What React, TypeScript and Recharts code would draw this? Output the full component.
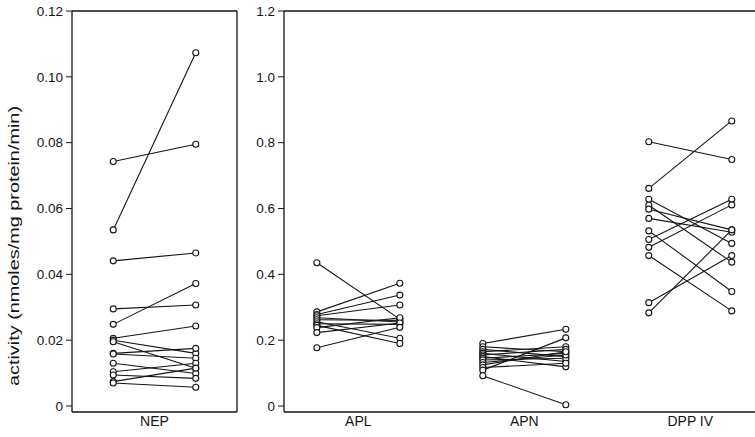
import React from 'react';
import { ScatterChart, Scatter, XAxis, YAxis, ReferenceLine } from 'recharts';

// Paired enzyme activities (before / after), one entry per subject
const nepBefore = [0.0743, 0.0535, 0.0441, 0.0295, 0.0248, 0.0206, 0.02, 0.0195, 0.016, 0.0158, 0.013, 0.0104, 0.0094, 0.0074, 0.007];
const nepAfter = [0.0795, 0.1073, 0.0465, 0.0307, 0.0372, 0.0243, 0.016, 0.0115, 0.0175, 0.0145, 0.0099, 0.013, 0.0084, 0.0115, 0.0057];

const aplBefore = [0.435, 0.286, 0.278, 0.274, 0.268, 0.262, 0.256, 0.25, 0.245, 0.238, 0.223, 0.177];
const aplAfter = [0.264, 0.373, 0.337, 0.307, 0.255, 0.26, 0.206, 0.248, 0.19, 0.268, 0.252, 0.239];

const apnBefore = [0.19, 0.18, 0.172, 0.165, 0.16, 0.155, 0.15, 0.145, 0.14, 0.132, 0.125, 0.117, 0.109, 0.092];
const apnAfter = [0.233, 0.165, 0.15, 0.18, 0.135, 0.172, 0.119, 0.16, 0.145, 0.155, 0.165, 0.13, 0.207, 0.004];

const dppBefore = [0.803, 0.661, 0.628, 0.61, 0.598, 0.57, 0.532, 0.506, 0.482, 0.457, 0.314, 0.283];
const dppAfter = [0.749, 0.866, 0.494, 0.437, 0.535, 0.528, 0.348, 0.628, 0.611, 0.289, 0.457, 0.535];

const leftCategories = ['NEP'];
const rightCategories = ['APL', 'APN', 'DPP IV'];

const leftTicks = [0, 0.02, 0.04, 0.06, 0.08, 0.1, 0.12];
const rightTicks = [0, 0.2, 0.4, 0.6, 0.8, 1.0, 1.2];

const yTitle = 'activity (nmoles/mg protein/min)';

type Pt = { x: number; y: number };

const INK = '#151515';
const FONT = '"Liberation Sans", Arial, Helvetica, sans-serif';

// Build one two-point segment per subject around a category center (1-based)
function makePairs(center: number, before: number[], after: number[]): Pt[][] {
  return before.map((b, i) => [
    { x: center - 0.25, y: b },
    { x: center + 0.25, y: after[i] },
  ]);
}

const leftPairs = makePairs(1, nepBefore, nepAfter);
const rightPairs = [
  ...makePairs(1, aplBefore, aplAfter),
  ...makePairs(2, apnBefore, apnAfter),
  ...makePairs(3, dppBefore, dppAfter),
];

const Hidden = () => <g />;
const Ring = (p: any) => (
  <circle cx={p.cx} cy={p.cy} r={3} fill="#fff" stroke={INK} strokeWidth={1.1} />
);

function segments(pairs: Pt[][], prefix: string) {
  const lines = pairs.map((pair, i) => (
    <Scatter
      key={`${prefix}-l${i}`}
      data={pair}
      line={{ stroke: INK, strokeWidth: 1.1 }}
      shape={Hidden}
      isAnimationActive={false}
      legendType="none"
    />
  ));
  const dots = (
    <Scatter
      key={`${prefix}-dots`}
      data={pairs.flat()}
      shape={Ring}
      isAnimationActive={false}
      legendType="none"
    />
  );
  return [...lines, dots];
}

const yTickStyle = { fill: INK, fontSize: 13.5, fontFamily: FONT };
const xTickStyle = { fill: INK, fontSize: 14, fontFamily: FONT };
const axisLine = { stroke: INK, strokeWidth: 1.3 };

export default function App() {
  return (
    <div
      style={{
        position: 'absolute',
        left: 0,
        top: 0,
        width: 755,
        height: 437,
        overflow: 'hidden',
        background: '#fff',
      }}
    >
      <div style={{ position: 'absolute', left: 0, top: 0 }}>
        <ScatterChart width={240} height={437} margin={{ top: 11, right: 3, left: 0, bottom: 0 }}>
          <XAxis
            type="number"
            dataKey="x"
            domain={[0.5, 1.5]}
            ticks={[1]}
            tickFormatter={(v: number) => leftCategories[Math.round(v) - 1]}
            allowDataOverflow
            height={25}
            tickLine={false}
            tickSize={2}
            tickMargin={2}
            axisLine={axisLine}
            tick={xTickStyle}
          />
          <YAxis
            type="number"
            dataKey="y"
            domain={[-0.00182, 0.12]}
            ticks={leftTicks}
            tickFormatter={(v: number) => (v === 0 ? '0' : v.toFixed(2))}
            allowDataOverflow
            width={72}
            tickSize={6}
            tickMargin={3}
            axisLine={axisLine}
            tickLine={{ stroke: INK }}
            tick={yTickStyle}
          />
          <ReferenceLine y={0.12} stroke={INK} strokeWidth={1.3} ifOverflow="visible" />
          <ReferenceLine x={1.5} stroke={INK} strokeWidth={1.3} ifOverflow="visible" />
          {segments(leftPairs, 'nep')}
        </ScatterChart>
      </div>
      <svg
        width={30}
        height={437}
        style={{ position: 'absolute', left: 0, top: 0, pointerEvents: 'none' }}
      >
        <text
          x={14}
          y={246}
          transform="rotate(-90 14 246)"
          textAnchor="middle"
          dominantBaseline="central"
          fontSize={14}
          fontFamily={FONT}
          fill={INK}
          textLength={280}
          lengthAdjust="spacingAndGlyphs"
        >
          {yTitle}
        </text>
      </svg>
      <div style={{ position: 'absolute', left: 240, top: 0 }}>
        <ScatterChart width={515} height={437} margin={{ top: 11, right: 0, left: 0, bottom: 0 }}>
          <XAxis
            type="number"
            dataKey="x"
            domain={[0.552, 3.39]}
            ticks={[1, 2, 3]}
            tickFormatter={(v: number) => rightCategories[Math.round(v) - 1]}
            allowDataOverflow
            height={25}
            tickLine={false}
            tickSize={2}
            tickMargin={2}
            axisLine={axisLine}
            tick={xTickStyle}
          />
          <YAxis
            type="number"
            dataKey="y"
            domain={[-0.0182, 1.2]}
            ticks={rightTicks}
            tickFormatter={(v: number) => (v === 0 ? '0' : v.toFixed(1))}
            allowDataOverflow
            width={44}
            tickSize={6}
            tickMargin={3}
            axisLine={axisLine}
            tickLine={{ stroke: INK }}
            tick={yTickStyle}
          />
          <ReferenceLine y={1.2} stroke={INK} strokeWidth={1.3} ifOverflow="visible" />
          {segments(rightPairs, 'rp')}
        </ScatterChart>
      </div>
    </div>
  );
}
